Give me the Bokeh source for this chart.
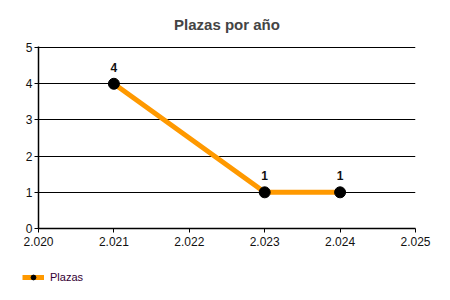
from bokeh.plotting import figure
from bokeh.layouts import column
from bokeh.models import ColumnDataSource, CustomJSTickFormatter, Legend, LegendItem, FixedTicker, Range1d
from bokeh.core.properties import value
from bokeh.embed import file_html
from bokeh.resources import INLINE

years = [2021, 2023, 2024]
plazas = [4, 1, 1]
labels = [str(v) for v in plazas]
x_ticks = [2020, 2021, 2022, 2023, 2024, 2025]
y_ticks = [0, 1, 2, 3, 4, 5]
series_name = "Plazas"

LINE_COLOR = "#FF9900"

src = ColumnDataSource(dict(x=years, y=plazas, lab=labels))

p = figure(width=450, height=260, output_backend="svg", toolbar_location=None,
           x_range=Range1d(2020, 2025), y_range=Range1d(0, 5.03),
           min_border_left=38, min_border_right=35, min_border_top=45, min_border_bottom=32)
p.frame_align = False
p.title.text = "Plazas por año"
p.title.align = "center"
p.title.text_font = "Liberation Sans"
p.title.text_font_size = "15px"
p.title.text_font_style = "bold"
p.title.standoff = 27
p.outline_line_color = None
p.background_fill_color = "white"
p.border_fill_color = "white"

p.xgrid.grid_line_color = None
p.ygrid.grid_line_color = "black"
p.ygrid.grid_line_width = 1
p.ygrid.grid_line_alpha = 1

for ax in (p.xaxis, p.yaxis):
    ax.axis_line_color = "black"
    ax.axis_line_width = 1.5
    ax.major_tick_line_color = "black"
    ax.minor_tick_line_color = None
    ax.major_label_text_font = "Liberation Sans"
    ax.major_label_text_font_size = "12px"
    ax.major_label_text_color = "#111111"
    ax.major_tick_in = 0
    ax.major_tick_out = 4

p.xaxis.ticker = FixedTicker(ticks=x_ticks)
p.yaxis.ticker = FixedTicker(ticks=y_ticks)
p.xaxis.formatter = CustomJSTickFormatter(code="return (tick/1000).toFixed(3);")
p.xaxis.major_label_standoff = 4
p.yaxis.major_label_standoff = 2

p.line("x", "y", source=src, line_color=LINE_COLOR, line_width=5)
p.scatter("x", "y", source=src, size=11, fill_color="black", line_color="black")
p.text("x", "y", text="lab", source=src, text_align="center", text_baseline="bottom",
       y_offset=-12, text_font=value("Liberation Sans"), text_font_size="12px",
       text_font_style="bold", text_color="#111111")

# legend strip (its glyph renderers use the same data, which lies outside this strip's range)
p2 = figure(width=450, height=40, output_backend="svg", toolbar_location=None,
            x_range=Range1d(0, 1), y_range=Range1d(0, 1),
            x_axis_location=None, y_axis_location=None,
            min_border_left=0, min_border_right=0, min_border_top=0, min_border_bottom=0)
p2.frame_align = False
p2.grid.visible = False
p2.outline_line_color = None
p2.border_fill_color = "white"
l2 = p2.line("x", "y", source=src, line_color=LINE_COLOR, line_width=5)
s2 = p2.scatter("x", "y", source=src, size=6, fill_color="black", line_color="black")
legend = Legend(items=[LegendItem(label=series_name, renderers=[l2, s2])],
                location=(22, 17), orientation="horizontal",
                label_text_font="Liberation Sans", label_text_font_size="11px",
                label_text_color="#330033",
                glyph_width=22, glyph_height=12, border_line_color=None,
                background_fill_alpha=0, margin=0, padding=0, spacing=4,
                label_standoff=6, label_height=12)
p2.add_layout(legend)

open("out.html", "w").write(file_html(column(p, p2, spacing=0), INLINE))
